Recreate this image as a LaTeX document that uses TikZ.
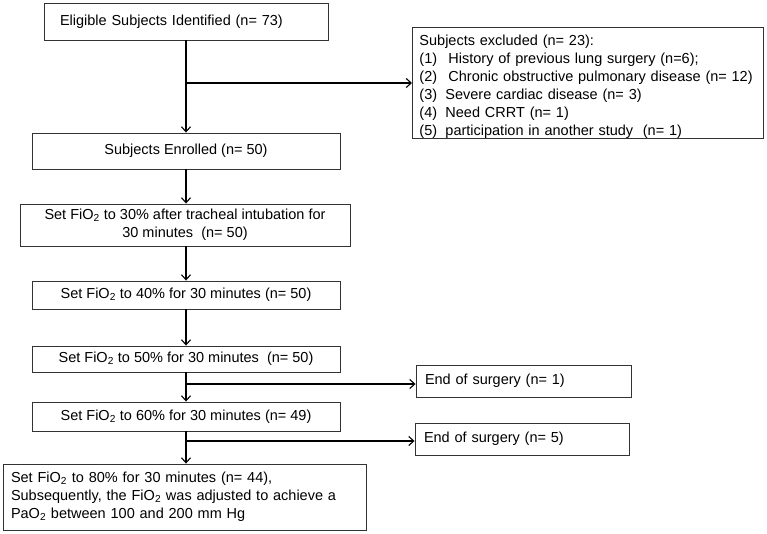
\documentclass[tikz,border=0pt]{standalone}
\usepackage{fontspec}
\setmainfont{Liberation Sans}
\usetikzlibrary{arrows.meta}
\begin{document}
\begin{tikzpicture}[x=1pt,y=-1pt,
  box/.style={draw=black!80, line width=0.9pt, rectangle, font=\fontsize{14.5}{18}\selectfont, inner ysep=0pt},
  flow/.style={line width=1.3pt, -{Straight Barb[length=5pt,width=9pt,line width=1.1pt]}},
  plain/.style={line width=1.3pt}]
\useasboundingbox (0,0) rectangle (767,533);
\fill[white] (0,0) rectangle (767,533);

\node[box, minimum width=284pt, minimum height=37pt, text width=252pt, inner xsep=16pt, align=left] (elig) at (186,21.5) {Eligible Subjects Identified (n= 73)};
\node[box, minimum width=308pt, minimum height=36pt] (enrol) at (186,151) {Subjects Enrolled (n= 50)};
\node[box, minimum width=330pt, minimum height=42pt, align=center] (s30) at (185,225) {Set FiO\textsubscript{2} to 30\% after tracheal intubation for\\30 minutes~~(n= 50)};
\node[box, minimum width=308pt, minimum height=28pt] (s40) at (186,295) {Set FiO\textsubscript{2} to 40\% for 30 minutes (n= 50)};
\node[box, minimum width=308pt, minimum height=26pt] (s50) at (186,359) {Set FiO\textsubscript{2} to 50\% for 30 minutes~~(n= 50)};
\node[box, minimum width=308pt, minimum height=29pt] (s60) at (186,416.5) {Set FiO\textsubscript{2} to 60\% for 30 minutes (n= 49)};
\node[box, minimum width=363pt, minimum height=66pt, text width=347pt, inner xsep=8pt, align=left] (s80) at (184.5,497) {Set FiO\textsubscript{2} to 80\% for 30 minutes (n= 44),\\Subsequently, the FiO\textsubscript{2} was adjusted to achieve a\\PaO\textsubscript{2} between 100 and 200 mm Hg};

\node[box, anchor=north west, text width=337pt, inner xsep=7pt, align=left] (excl) at (412,27) {\rule{0pt}{18pt}Subjects excluded (n= 23):\\
\makebox[29pt][l]{(1)}History of previous lung surgery (n=6);\\
\makebox[29pt][l]{(2)}Chronic obstructive pulmonary disease (n= 12)\\
\makebox[26pt][l]{(3)}Severe cardiac disease (n= 3)\\
\makebox[26pt][l]{(4)}Need CRRT (n= 1)\\
\makebox[26pt][l]{(5)}participation in another study~~(n= 1)};

\node[box, minimum width=215pt, minimum height=32pt, text width=197pt, inner xsep=9pt, align=left] (end1) at (523.5,381) {End of surgery (n= 1)};
\node[box, minimum width=214pt, minimum height=32pt, text width=196pt, inner xsep=9pt, align=left] (end2) at (522,439) {End of surgery (n= 5)};

\coordinate (b1) at (186,83);
\coordinate (b2) at (186,384);
\coordinate (b3) at (186,441);

\draw[flow] (elig.south) -- (elig.south |- enrol.north);
\draw[flow] (b1) -- (b1 -| excl.west);
\draw[flow] (enrol.south) -- (enrol.south |- s30.north);
\draw[flow] (s30.south -| enrol.south) -- (enrol.south |- s40.north);
\draw[flow] (s40.south) -- (s40.south |- s50.north);
\draw[flow] (s50.south) -- (s50.south |- s60.north);
\draw[flow] (b2) -- (b2 -| end1.west);
\draw[flow] (s60.south) -- (s60.south |- s80.north);
\draw[flow] (b3) -- (b3 -| end2.west);
\end{tikzpicture}
\end{document}
